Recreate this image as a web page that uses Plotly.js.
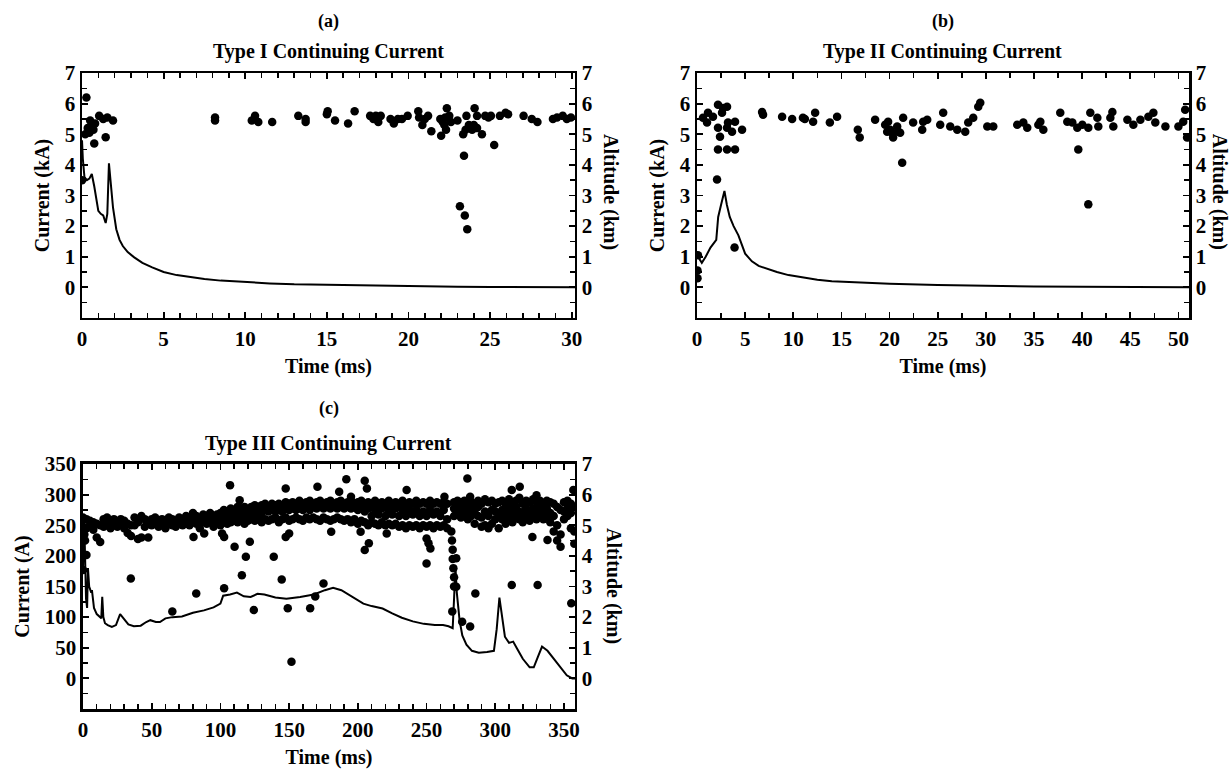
<!DOCTYPE html>
<html>
<head>
<meta charset="utf-8">
<script src="https://cdn.plot.ly/plotly-3.0.1.min.js"></script>
<style>html,body{margin:0;padding:0;background:#fff;}#chart{width:1232px;height:769px;}</style>
</head>
<body>
<div id="chart"></div>
<script>
// ---------- Panel (a): Type I ----------
const aTime = [0,0.05,0.15,0.3,0.45,0.6,0.75,0.9,1.0,1.15,1.3,1.45,1.55,1.65,1.75,1.9,2.1,2.3,2.5,2.8,3.2,3.7,4.3,5.0,5.8,6.6,7.5,8.5,10,11.5,13,15,17,19,21,23,25,27,28.5,30.2];
const aCurrent = [4.8,4.2,3.6,3.5,3.55,3.7,3.3,2.8,2.5,2.4,2.35,2.1,2.4,4.05,3.4,2.6,1.9,1.55,1.35,1.15,0.98,0.8,0.65,0.5,0.4,0.33,0.27,0.22,0.17,0.13,0.1,0.08,0.06,0.045,0.03,0.02,0.015,0.01,0.005,0.0];
const aAltT = [0,0.27,0.2,0.35,0.5,0.6,0.7,0.8,0.75,1.05,1.3,1.45,1.55,1.9,0.45,8.15,8.15,10.4,10.6,10.8,11.65,13.25,13.7,13.7,15.0,15.05,15.5,16.3,16.7,17.65,17.85,18.0,18.3,18.15,18.9,19.1,19.35,19.6,19.95,20.6,20.65,20.85,21.2,21.4,22.0,21.95,22.25,22.2,22.35,22.5,22.3,22.6,23.0,23.15,23.4,23.45,23.6,23.35,23.55,23.7,23.9,24.05,24.2,24.2,24.5,24.7,24.9,25.25,25.05,25.6,25.95,26.1,27.05,27.55,27.9,28.85,29.1,29.45,29.7,29.95,23.5,23.8,24.0,22.1,21.0];
const aAltKm = [3.5,6.2,5.0,5.2,5.45,5.3,5.15,5.35,4.7,5.6,5.5,4.9,5.55,5.45,5.05,5.55,5.45,5.45,5.6,5.4,5.4,5.6,5.4,5.5,5.65,5.75,5.45,5.35,5.75,5.6,5.5,5.6,5.6,5.4,5.5,5.35,5.5,5.5,5.6,5.75,5.55,5.3,5.6,5.1,4.95,5.5,5.55,5.3,5.85,5.6,5.15,5.4,5.45,2.65,4.3,2.35,1.9,5.0,5.6,5.3,5.15,5.85,5.6,5.2,5.0,5.6,5.55,4.65,5.6,5.6,5.7,5.65,5.6,5.5,5.4,5.5,5.55,5.6,5.5,5.55,5.15,5.25,5.3,5.4,5.5];

// ---------- Panel (b): Type II ----------
const bTime = [0,0.2,0.5,0.9,1.4,2.0,2.2,2.5,2.7,2.85,3.1,3.4,3.8,4.3,5.0,5.7,6.4,7.5,8.3,9.5,11,12.5,14,17,20,25,30,35,40,45,51.1];
const bCurrent = [1.05,0.95,0.8,1.0,1.3,1.55,2.3,2.7,3.0,3.15,2.7,2.3,2.0,1.7,1.1,0.85,0.7,0.57,0.5,0.4,0.32,0.25,0.2,0.15,0.12,0.08,0.05,0.03,0.02,0.01,0.0];
const bAltT = [0.1,0.05,0.05,0.62,1.04,1.14,1.66,2.18,2.18,2.39,2.6,2.7,3.12,3.12,3.22,3.64,3.95,4.68,2.18,3.12,3.95,2.08,3.9,6.76,6.86,8.84,9.88,11.0,11.2,12.27,12.06,13.8,14.55,16.7,16.9,18.5,19.75,19.54,19.85,20.06,20.27,20.37,20.79,20.89,21.1,21.41,21.31,22.45,23.39,23.49,23.91,25.26,25.57,26.3,27.03,27.86,28.17,28.69,29.21,29.42,30.15,30.77,33.26,33.89,34.3,35.45,35.66,35.97,37.73,38.46,38.98,39.5,39.6,40.02,40.64,40.85,40.64,41.58,41.68,42.93,43.14,43.24,44.7,45.32,46.05,46.88,47.4,47.6,48.65,50.0,50.5,50.7,50.9];
const bAltKm = [1.05,0.55,0.3,5.54,5.38,5.7,5.57,5.96,5.21,4.92,5.7,5.86,5.9,5.21,5.38,5.08,5.41,5.15,4.5,4.5,4.5,3.52,1.3,5.73,5.64,5.57,5.5,5.54,5.5,5.7,5.41,5.38,5.57,5.15,4.89,5.47,5.08,5.31,5.41,5.15,5.05,4.89,5.25,5.08,5.05,5.54,4.07,5.38,5.15,5.41,5.47,5.31,5.7,5.25,5.15,5.08,5.38,5.54,5.9,6.03,5.25,5.25,5.31,5.38,5.21,5.31,5.41,5.15,5.7,5.41,5.38,5.21,4.5,5.31,5.21,5.7,2.71,5.54,5.25,5.54,5.73,5.25,5.47,5.31,5.47,5.57,5.7,5.38,5.25,5.25,5.41,5.8,4.89];

// ---------- Panel (c): Type III ----------
const cTime = [0,0.8,1.5,2.2,3,3.6,4.5,6,6.5,8,10,12,13.3,14,14.8,16,18,21,24,27,30,33,37,42,46,49,53,56,60,65,72,80,88,95,100,102,107,112,117,122,127,132,140,148,158,168,176,182,188,196,204,210,218,225,232,240,248,256,262,266,269,270,271,272,274,276,279,283,288,294,299,301,303,305,307,310,313,316,320,325,328,331,334,338,343,348,352,356,358];
const cCurrent = [175,265,200,130,115,180,150,140,144,115,105,100,98,133,100,90,87,84,87,105,96,88,85,86,92,95,92,92,98,100,101,107,111,116,122,135,137,140,134,133,138,137,132,130,133,137,144,148,144,133,122,118,114,106,99,93,89,87,87,85,82,130,182,140,95,70,55,45,42,43,45,80,132,100,68,58,60,48,32,18,18,35,52,45,30,15,5,0,0];
const cAltT = [
 0,0,2.5,2.5,5,5,7.5,7.5,10,10,12.5,12.5,15,15,17.5,17.5,20,20,22.5,22.5,25,25,27.5,27.5,30,30,32.5,32.5,35,35,37.5,37.5,40,40,42.5,42.5,45,45,47.5,47.5,
 50,50,52.5,52.5,55,55,57.5,57.5,60,60,62.5,62.5,65,65,67.5,67.5,70,70,72.5,72.5,75,75,77.5,77.5,80,80,82.5,82.5,85,85,87.5,87.5,90,90,92.5,92.5,95,95,97.5,97.5,
 100,100,100,102.5,102.5,102.5,105,105,105,107.5,107.5,107.5,110,110,110,112.5,112.5,112.5,115,115,115,117.5,117.5,117.5,120,120,120,122.5,122.5,122.5,
 125,125,125,127.5,127.5,127.5,130,130,130,132.5,132.5,132.5,135,135,135,137.5,137.5,137.5,140,140,140,142.5,142.5,142.5,145,145,145,147.5,147.5,147.5,
 150,150,150,152.5,152.5,152.5,155,155,155,157.5,157.5,157.5,160,160,160,162.5,162.5,162.5,165,165,165,167.5,167.5,167.5,170,170,170,172.5,172.5,172.5,
 175,175,175,177.5,177.5,177.5,180,180,180,182.5,182.5,182.5,185,185,185,187.5,187.5,187.5,190,190,190,192.5,192.5,192.5,195,195,195,197.5,197.5,197.5,
 200,200,200,202.5,202.5,202.5,205,205,205,207.5,207.5,207.5,210,210,210,212.5,212.5,212.5,215,215,215,217.5,217.5,217.5,220,220,220,222.5,222.5,222.5,
 225,225,225,227.5,227.5,227.5,230,230,230,232.5,232.5,232.5,235,235,235,237.5,237.5,237.5,240,240,240,242.5,242.5,242.5,245,245,245,247.5,247.5,247.5,
 250,250,250,252.5,252.5,252.5,255,255,255,257.5,257.5,257.5,260,260,260,262.5,262.5,262.5,265,265,265,
 268,268.5,269,269,269.5,270,270,
 270,270,270,272.5,272.5,272.5,275,275,275,277.5,277.5,277.5,280,280,280,282.5,282.5,282.5,285,285,285,287.5,287.5,287.5,290,290,290,292.5,292.5,292.5,
 295,295,295,297.5,297.5,297.5,300,300,300,302.5,302.5,302.5,305,305,305,307.5,307.5,307.5,310,310,310,312.5,312.5,312.5,315,315,315,317.5,317.5,317.5,
 320,320,320,322.5,322.5,322.5,325,325,325,327.5,327.5,327.5,330,330,330,332.5,332.5,332.5,335,335,335,337.5,337.5,337.5,340,340,340,342.5,342.5,342.5,
 345,345,345,347.5,347.5,347.5,350,350,350,352.5,352.5,352.5,355,355,355,357.5,357.5,357.5,
 0,2.5,34.8,65,82.4,80.4,88.2,101.2,102.7,102.7,107,110.3,114,115.6,118.5,121.4,124.3,138.8,144.6,147.5,147.5,149,151.7,150,165.3,169,170.6,175,180.6,186.4,191.6,195,202,205,206.6,205,208,221,235.5,250,251.4,252.8,250,263,268.7,271.6,271.6,275.9,279.7,281.7,285.5,281.7,312,312,317.8,327,330.8,330,338,355.3,356.8,1,1.5];
const cAltKm = [
 4.95,5.25,4.9,5.2,5.0,5.15,4.85,5.1,4.6,5.05,4.45,5.0,4.95,5.2,5.0,5.25,4.9,5.1,5.0,5.2,4.95,5.1,5.05,5.2,4.9,5.15,4.75,5.05,4.65,5.0,5.0,5.25,4.55,5.1,4.6,5.3,4.95,5.2,4.6,5.05,
 5.0,5.2,5.05,5.25,4.95,5.15,5.0,5.2,4.9,5.1,5.05,5.25,5.0,5.2,4.95,5.15,5.05,5.25,5.0,5.2,5.05,5.3,5.0,5.25,5.1,5.4,5.05,5.3,4.9,5.2,5.1,5.35,5.05,5.3,5.1,5.4,4.95,5.25,5.1,5.35,
 5.0,5.2,5.4,5.1,5.3,5.5,5.05,5.3,5.45,5.1,5.35,5.55,5.15,5.35,5.5,5.1,5.3,5.6,5.2,5.4,5.55,5.05,5.35,5.6,5.15,5.4,5.5,5.2,5.45,5.6,
 5.15,5.4,5.65,5.2,5.45,5.6,5.1,5.4,5.65,5.2,5.5,5.7,5.15,5.45,5.6,5.2,5.5,5.7,5.25,5.45,5.65,5.1,5.5,5.7,5.2,5.45,5.65,5.25,5.55,5.75,
 5.15,5.5,5.7,5.2,5.55,5.75,5.25,5.5,5.7,5.2,5.55,5.8,5.15,5.5,5.7,5.25,5.6,5.75,5.2,5.5,5.8,5.25,5.6,5.7,5.2,5.55,5.75,5.15,5.6,5.8,
 5.25,5.55,5.7,5.2,5.6,5.75,5.15,5.55,5.8,5.2,5.6,5.7,5.25,5.55,5.75,5.2,5.6,5.8,5.15,5.55,5.7,5.2,5.6,5.75,5.1,5.55,5.8,5.2,5.6,5.7,
 5.05,5.5,5.75,5.15,5.6,5.8,5.1,5.45,5.7,5.0,5.55,5.75,5.1,5.3,5.7,5.05,5.5,5.8,5.0,5.35,5.7,5.1,5.55,5.75,5.0,5.3,5.7,5.05,5.5,5.8,
 5.0,5.35,5.7,5.05,5.55,5.75,4.95,5.3,5.7,5.0,5.5,5.8,4.9,5.3,5.65,5.0,5.5,5.75,4.95,5.35,5.7,5.0,5.5,5.8,4.9,5.3,5.7,5.0,5.45,5.75,
 4.95,5.3,5.7,5.0,5.5,5.8,4.9,5.35,5.7,5.0,5.45,5.75,4.95,5.3,5.7,5.0,5.5,5.75,4.9,5.2,5.7,
 4.8,4.5,4.2,3.9,3.6,3.3,3.0,
 5.3,5.55,5.75,5.4,5.6,5.8,5.25,5.5,5.75,5.35,5.6,5.8,5.2,5.5,5.7,5.3,5.55,5.75,5.05,5.4,5.7,5.3,5.6,5.8,4.95,5.25,5.7,5.0,5.45,5.85,
 4.9,5.3,5.75,5.05,5.5,5.8,5.2,5.45,5.7,4.9,5.35,5.75,5.2,5.5,5.8,5.05,5.4,5.7,5.25,5.55,5.85,5.1,5.45,5.75,5.3,5.6,5.8,5.2,5.45,5.9,
 5.1,5.4,5.7,5.3,5.55,5.8,5.15,5.45,5.75,5.3,5.55,5.85,5.2,5.5,5.75,5.35,5.6,5.8,5.2,5.45,5.7,5.3,5.55,5.8,5.1,5.4,5.75,4.8,5.3,5.7,
 4.5,5.0,5.6,4.3,4.7,5.5,5.2,5.45,5.75,5.3,5.55,5.8,4.9,5.4,5.7,4.4,4.8,5.6,
 3.54,4.03,3.26,2.18,2.77,4.62,4.73,4.73,4.62,2.94,6.31,4.3,5.82,3.37,3.97,4.46,2.23,3.97,3.23,6.2,4.62,2.29,0.54,4.73,2.29,2.67,6.26,3.1,4.79,6.09,6.5,5.93,4.79,6.45,6.2,4.19,4.41,4.73,6.15,4.57,4.41,4.24,3.75,5.93,2.18,2.99,3.92,1.85,6.53,1.69,2.77,5.93,6.15,3.05,6.26,4.62,3.05,5.98,4.52,2.45,6.15,4.7,4.5];

// ---------- Styling ----------
const FONT = "Liberation Serif, Times New Roman, serif";
const tickFont = {family: FONT, size: 21, color: "#000", weight: "bold"};
const titleFont = {family: FONT, size: 20, color: "#000", weight: "bold"};

function xAx(domain, range, dtick, minor, anchor) {
  return {domain: domain, range: range, anchor: anchor, dtick: dtick, tick0: 0,
    ticks: "inside", ticklen: 6, tickwidth: 1.8, tickcolor: "#000",
    minor: {ticks: "inside", dtick: minor, tick0: 0, ticklen: 5, tickwidth: 1.5, tickcolor: "#000"},
    showline: true, linewidth: 2.5, linecolor: "#000", mirror: "ticks",
    showgrid: false, zeroline: false, tickfont: tickFont,
    title: {text: "Time (ms)", font: titleFont, standoff: 10}};
}
function yLeft(domain, range, vals, minor, title, anchor) {
  return {domain: domain, range: range, anchor: anchor, tickmode: "array", tickvals: vals,
    ticks: "inside", ticklen: 6, tickwidth: 1.8, tickcolor: "#000",
    minor: {ticks: "inside", dtick: minor, tick0: 0, ticklen: 5, tickwidth: 1.5, tickcolor: "#000"},
    showline: true, linewidth: 2.5, linecolor: "#000", mirror: true,
    showgrid: false, zeroline: false, tickfont: tickFont,
    title: {text: title, font: titleFont, standoff: 10}};
}
function yRight(domain, overlay, anchor) {
  return {domain: domain, range: [-1, 7], overlaying: overlay, anchor: anchor, side: "right",
    tickmode: "array", tickvals: [0,1,2,3,4,5,6,7],
    ticks: "inside", ticklen: 6, tickwidth: 1.8, tickcolor: "#000",
    minor: {ticks: "inside", dtick: 0.5, tick0: 0, ticklen: 5, tickwidth: 1.5, tickcolor: "#000"},
    showline: true, linewidth: 2.5, linecolor: "#000",
    showgrid: false, zeroline: false, tickfont: tickFont};
}

const domA_x = [0.06656, 0.46672], domTop_y = [0.5865, 0.90507];
const domB_x = [0.56575, 0.96510];
const domC_x = [0.06737, 0.46672], domC_y = [0.07802, 0.39662];

const lineStyle = {color: "#000", width: 2};
const mk = {color: "#000", size: 8.5, symbol: "circle"};

const traces = [
  {x: aTime, y: aCurrent, xaxis: "x", yaxis: "y", mode: "lines", line: lineStyle, name: "Current"},
  {x: aAltT, y: aAltKm, xaxis: "x", yaxis: "y2", mode: "markers", marker: mk, name: "Altitude"},
  {x: bTime, y: bCurrent, xaxis: "x2", yaxis: "y3", mode: "lines", line: lineStyle, name: "Current"},
  {x: bAltT, y: bAltKm, xaxis: "x2", yaxis: "y4", mode: "markers", marker: mk, name: "Altitude"},
  {x: cTime, y: cCurrent, xaxis: "x3", yaxis: "y5", mode: "lines", line: lineStyle, name: "Current"},
  {x: cAltT, y: cAltKm, xaxis: "x3", yaxis: "y6", mode: "markers", marker: mk, name: "Altitude"}
];

function ann(text, x, y, angle, size) {
  return {text: text, x: x, y: y, xref: "paper", yref: "paper", showarrow: false,
    xanchor: "center", yanchor: "middle", textangle: angle || 0,
    font: {family: FONT, size: size || 20, color: "#000", weight: "bold"}};
}

const layout = {
  width: 1232, height: 769, margin: {l: 0, r: 0, t: 0, b: 0},
  paper_bgcolor: "#fff", plot_bgcolor: "#fff", showlegend: false,
  xaxis: xAx(domA_x, [0, 30.2], 5, 1, "y"),
  yaxis: yLeft(domTop_y, [-1, 7], [0,1,2,3,4,5,6,7], 0.5, "Current (kA)", "x"),
  yaxis2: yRight(domTop_y, "y", "x"),
  xaxis2: xAx(domB_x, [0, 51.1], 5, 2.5, "y3"),
  yaxis3: yLeft(domTop_y, [-1, 7], [0,1,2,3,4,5,6,7], 0.5, "Current (kA)", "x2"),
  yaxis4: yRight(domTop_y, "y3", "x2"),
  xaxis3: xAx(domC_x, [0, 358], 50, 10, "y5"),
  yaxis5: yLeft(domC_y, [-50, 350], [0,50,100,150,200,250,300,350], 25, "Current (A)", "x3"),
  yaxis6: yRight(domC_y, "y5", "x3"),
  annotations: [
    ann("(a)", 0.2666, 0.9714, 0, 18),
    ann("Type I Continuing Current", 0.2666, 0.9324, 0, 20),
    ann("(b)", 0.7654, 0.9714, 0, 18),
    ann("Type II Continuing Current", 0.7654, 0.9324, 0, 20),
    ann("(c)", 0.2670, 0.4694, 0, 18),
    ann("Type III Continuing Current", 0.2670, 0.4239, 0, 20),
    ann("Altitude (km)", 0.4959, 0.7503, 90, 20),
    ann("Altitude (km)", 0.9905, 0.7503, 90, 20),
    ann("Altitude (km)", 0.4976, 0.238, 90, 20)
  ]
};

Plotly.newPlot("chart", traces, layout, {displayModeBar: false, staticPlot: true});
</script>
</body>
</html>
